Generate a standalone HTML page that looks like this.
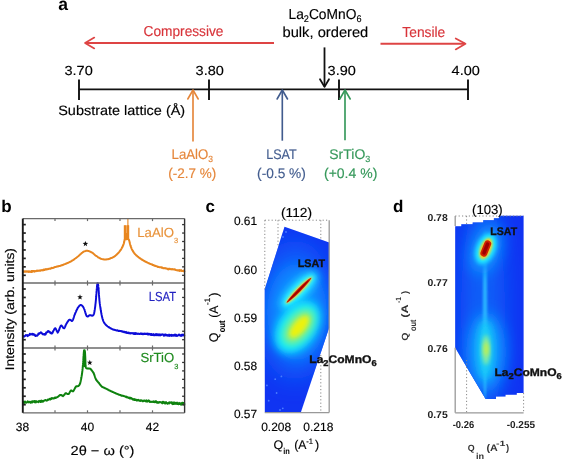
<!DOCTYPE html>
<html><head><meta charset="utf-8"><style>
html,body{margin:0;padding:0;background:#fff;}
svg{display:block;font-family:"Liberation Sans", sans-serif;-webkit-font-smoothing:antialiased;will-change:transform;}
text{text-rendering:geometricPrecision;}
</style></head><body>
<svg width="565" height="461" viewBox="0 0 565 461">
<text x="58.3" y="10.4" font-size="17.5" fill="#000" font-weight="bold" text-anchor="start" >a</text>
<line x1="85" y1="42.9" x2="274" y2="42.9" stroke="#DE4444" stroke-width="2.0" />
<polyline points="94.30,37.60 85.00,42.90 94.30,48.40" fill="none" stroke="#DE4444" stroke-width="1.7" stroke-linejoin="round" stroke-linecap="round" />
<text x="143.5" y="35.5" font-size="14.4" fill="#D8343A" stroke="#D8343A" stroke-width="0.15" font-weight="normal" text-anchor="start" textLength="80" lengthAdjust="spacingAndGlyphs" >Compressive</text>
<line x1="380.5" y1="43.8" x2="465" y2="43.8" stroke="#DE4444" stroke-width="2.0" />
<polyline points="455.70,38.40 465.50,43.80 455.70,49.40" fill="none" stroke="#DE4444" stroke-width="1.7" stroke-linejoin="round" stroke-linecap="round" />
<text x="402.3" y="37" font-size="14.4" fill="#D8343A" stroke="#D8343A" stroke-width="0.15" font-weight="normal" text-anchor="start" textLength="43" lengthAdjust="spacingAndGlyphs" >Tensile</text>
<text stroke="#000" stroke-width="0.15" fill="#000" x="288.5" y="18.6" font-size="14.4" textLength="73" lengthAdjust="spacingAndGlyphs">La<tspan font-size="9.5" dy="3.3">2</tspan><tspan dy="-3.3">CoMnO</tspan><tspan font-size="9.5" dy="3.3">6</tspan></text>
<text x="282.5" y="36.7" font-size="14.4" fill="#000" stroke="#000" stroke-width="0.15" font-weight="normal" text-anchor="start" textLength="85.8" lengthAdjust="spacingAndGlyphs" >bulk, ordered</text>
<line x1="324.5" y1="47.4" x2="324.5" y2="86.5" stroke="#111" stroke-width="1.8" />
<polyline points="320.00,79.30 324.50,86.90 329.00,79.30" fill="none" stroke="#111" stroke-width="1.8" stroke-linejoin="round" stroke-linecap="round" />
<line x1="79" y1="89.4" x2="468" y2="89.4" stroke="#111" stroke-width="1.9" />
<line x1="79" y1="79.5" x2="79" y2="100" stroke="#111" stroke-width="1.9" />
<line x1="209" y1="79.5" x2="209" y2="100" stroke="#111" stroke-width="1.9" />
<line x1="339" y1="79.5" x2="339" y2="100" stroke="#111" stroke-width="1.9" />
<line x1="468" y1="79.5" x2="468" y2="100" stroke="#111" stroke-width="1.9" />
<text x="64.5" y="74.6" font-size="13.2" fill="#000" stroke="#000" stroke-width="0.15" font-weight="normal" text-anchor="start" textLength="28.3" lengthAdjust="spacingAndGlyphs" >3.70</text>
<text x="195.6" y="74.6" font-size="13.2" fill="#000" stroke="#000" stroke-width="0.15" font-weight="normal" text-anchor="start" textLength="28.3" lengthAdjust="spacingAndGlyphs" >3.80</text>
<text x="327.6" y="74.6" font-size="13.2" fill="#000" stroke="#000" stroke-width="0.15" font-weight="normal" text-anchor="start" textLength="28.3" lengthAdjust="spacingAndGlyphs" >3.90</text>
<text x="451.6" y="74.6" font-size="13.2" fill="#000" stroke="#000" stroke-width="0.15" font-weight="normal" text-anchor="start" textLength="28.3" lengthAdjust="spacingAndGlyphs" >4.00</text>
<text x="58.2" y="115.3" font-size="13.6" fill="#000" stroke="#000" stroke-width="0.15" font-weight="normal" text-anchor="start" textLength="127" lengthAdjust="spacingAndGlyphs" >Substrate lattice (Å)</text>
<line x1="193" y1="90.2" x2="193" y2="141.6" stroke="#E5863A" stroke-width="1.65" />
<polyline points="187.80,99.00 193.00,90.00 198.20,99.00" fill="none" stroke="#E5863A" stroke-width="1.6" stroke-linejoin="round" stroke-linecap="round" />
<line x1="282.3" y1="90.2" x2="282.3" y2="140.7" stroke="#425C8E" stroke-width="1.65" />
<polyline points="277.10,99.00 282.30,90.00 287.50,99.00" fill="none" stroke="#425C8E" stroke-width="1.6" stroke-linejoin="round" stroke-linecap="round" />
<line x1="345" y1="90.2" x2="345" y2="140.3" stroke="#35985A" stroke-width="1.65" />
<polyline points="339.80,99.00 345.00,90.00 350.20,99.00" fill="none" stroke="#35985A" stroke-width="1.6" stroke-linejoin="round" stroke-linecap="round" />
<text stroke="#E5863A" stroke-width="0.15" x="171.6" y="158.9" font-size="14" fill="#E5863A" textLength="41.5" lengthAdjust="spacingAndGlyphs">LaAlO<tspan font-size="9" dy="3">3</tspan></text>
<text x="168.3" y="177.8" font-size="14" fill="#E5863A" stroke="#E5863A" stroke-width="0.15" font-weight="normal" text-anchor="start" textLength="48" lengthAdjust="spacingAndGlyphs" >(-2.7 %)</text>
<text x="266.2" y="158.7" font-size="14" fill="#425C8E" stroke="#425C8E" stroke-width="0.15" font-weight="normal" text-anchor="start" textLength="30.5" lengthAdjust="spacingAndGlyphs" >LSAT</text>
<text x="257.1" y="177.8" font-size="14" fill="#425C8E" stroke="#425C8E" stroke-width="0.15" font-weight="normal" text-anchor="start" textLength="48.8" lengthAdjust="spacingAndGlyphs" >(-0.5 %)</text>
<text stroke="#35985A" stroke-width="0.15" x="329.3" y="158.7" font-size="14" fill="#35985A" textLength="41" lengthAdjust="spacingAndGlyphs">SrTiO<tspan font-size="9" dy="3">3</tspan></text>
<text x="324" y="177.8" font-size="14" fill="#35985A" stroke="#35985A" stroke-width="0.15" font-weight="normal" text-anchor="start" textLength="53.3" lengthAdjust="spacingAndGlyphs" >(+0.4 %)</text>
<text x="1.3" y="211.9" font-size="17" fill="#000" font-weight="bold" text-anchor="start" >b</text>
<polyline points="23.00,271.61 23.23,271.42 23.50,271.95 23.82,271.32 24.17,271.81 24.55,271.62 24.95,271.29 25.38,271.76 25.83,271.25 26.30,271.66 26.77,271.26 27.25,271.27 27.73,271.61 28.20,272.03 28.67,271.26 29.13,271.35 29.58,271.76 30.00,272.07 30.41,271.66 30.82,271.44 31.24,272.02 31.65,271.03 32.06,271.84 32.47,271.22 32.88,271.04 33.29,270.98 33.71,271.15 34.12,271.63 34.53,270.95 34.94,271.32 35.35,271.33 35.76,271.02 36.18,271.15 36.59,270.62 37.00,270.56 37.41,270.66 37.83,271.06 38.24,270.76 38.66,270.58 39.08,270.78 39.49,270.58 39.91,270.37 40.33,270.76 40.75,270.60 41.16,270.10 41.57,270.33 41.99,270.21 42.39,270.44 42.80,270.23 43.20,269.77 43.60,270.29 44.00,269.47 44.42,269.65 44.83,269.85 45.24,269.26 45.65,269.46 46.05,269.01 46.46,269.43 46.86,269.42 47.26,269.18 47.65,269.33 48.05,268.81 48.44,269.01 48.84,268.84 49.23,268.74 49.62,268.55 50.01,268.74 50.40,268.71 50.82,268.28 51.23,268.31 51.64,267.80 52.05,268.13 52.46,267.98 52.87,268.10 53.27,267.88 53.68,267.44 54.08,267.40 54.49,267.45 54.89,266.97 55.29,267.11 55.69,266.84 56.10,266.71 56.50,266.57 56.90,266.82 57.31,266.39 57.71,266.34 58.12,266.29 58.53,266.40 58.93,265.92 59.34,265.97 59.74,265.90 60.14,265.92 60.54,265.76 60.94,265.65 61.33,265.31 61.73,265.23 62.11,265.08 62.50,265.13 62.91,265.00 63.32,264.61 63.72,264.47 64.12,264.34 64.52,264.20 64.91,264.11 65.31,263.98 65.70,263.75 66.09,263.55 66.47,263.46 66.86,263.29 67.24,263.15 67.62,263.05 68.00,262.83 68.38,262.63 68.76,262.47 69.13,262.29 69.51,262.01 69.88,261.96 70.25,261.76 70.62,261.58 70.98,261.37 71.35,261.11 71.71,260.91 72.06,260.66 72.41,260.54 72.76,260.24 73.10,260.03 73.46,259.82 73.83,259.56 74.19,259.34 74.54,259.04 74.90,258.77 75.25,258.53 75.59,258.26 75.93,258.04 76.26,257.72 76.58,257.60 76.90,257.30 77.20,256.98 77.50,256.76 77.87,256.47 78.22,256.18 78.56,255.84 78.89,255.67 79.20,255.41 79.51,255.05 79.81,254.78 80.10,254.45 80.40,254.19 80.70,253.97 81.07,253.65 81.42,253.43 81.77,253.02 82.11,252.71 82.45,252.59 82.80,252.26 83.14,251.96 83.50,251.81 83.92,251.50 84.34,251.39 84.77,251.29 85.20,251.12 85.64,250.97 86.07,250.81 86.50,250.78 86.93,250.73 87.35,250.84 87.76,250.84 88.19,250.96 88.61,250.98 89.05,251.10 89.50,251.35 89.86,251.53 90.24,251.68 90.62,251.86 91.01,252.07 91.40,252.28 91.79,252.43 92.17,252.72 92.54,252.94 92.90,253.12 93.24,253.37 93.57,253.67 93.90,253.93 94.21,254.28 94.52,254.60 94.84,254.79 95.15,255.15 95.47,255.42 95.80,255.68 96.14,255.83 96.48,256.06 96.83,256.31 97.18,256.55 97.52,256.79 97.87,257.09 98.22,257.36 98.56,257.56 98.90,257.70 99.32,257.96 99.74,258.20 100.15,258.29 100.56,258.57 100.97,258.78 101.38,258.91 101.80,259.04 102.22,259.12 102.64,259.17 103.07,259.36 103.50,259.36 103.93,259.49 104.36,259.56 104.80,259.48 105.19,259.49 105.59,259.57 105.99,259.52 106.39,259.40 106.79,259.34 107.20,259.29 107.60,259.35 108.00,259.25 108.40,259.05 108.80,259.05 109.20,258.95 109.59,258.76 109.99,258.57 110.39,258.44 110.80,258.21 111.20,258.02 111.56,258.02 111.93,257.80 112.30,257.62 112.68,257.51 113.05,257.24 113.42,257.12 113.78,256.90 114.15,256.58 114.50,256.36 114.85,256.12 115.19,255.85 115.53,255.64 115.87,255.30 116.20,255.03 116.53,254.68 116.86,254.50 117.18,254.10 117.50,253.79 117.78,253.52 118.07,253.27 118.35,252.88 118.63,252.64 118.91,252.25 119.18,251.93 119.44,251.60 119.70,251.18 119.96,250.92 120.20,250.55 120.46,250.15 120.72,249.91 120.97,249.44 121.21,249.11 121.44,248.78 121.67,248.37 121.89,247.95 122.10,247.60 122.30,247.21 122.50,246.85 122.69,246.33 122.87,245.99 123.05,245.52 123.21,245.11 123.37,244.77 123.53,244.32 123.67,243.91 123.80,243.54 123.93,243.10 124.05,242.54 124.16,242.08 124.25,241.58 124.34,241.12 124.42,240.73 124.51,240.31 124.60,240.01 124.83,239.43 125.04,239.22 125.30,239.03 125.82,239.17 126.40,239.37 126.96,239.11 127.50,239.01 128.02,239.10 128.50,239.36 128.71,239.51 128.90,239.86 129.09,240.37 129.30,240.93 129.39,241.26 129.48,241.58 129.57,242.05 129.66,242.47 129.75,242.90 129.85,243.21 129.95,243.74 130.06,244.17 130.17,244.52 130.30,245.06 130.42,245.46 130.55,245.73 130.68,246.25 130.82,246.56 130.96,246.98 131.11,247.46 131.26,247.84 131.41,248.12 131.57,248.55 131.73,248.94 131.90,249.27 132.09,249.64 132.28,250.03 132.48,250.47 132.68,250.71 132.89,251.15 133.10,251.48 133.32,251.75 133.54,252.13 133.77,252.50 134.00,252.80 134.26,253.07 134.53,253.55 134.80,253.84 135.08,254.18 135.36,254.34 135.66,254.66 135.96,254.92 136.27,255.34 136.60,255.56 136.90,255.81 137.21,256.13 137.52,256.48 137.84,256.73 138.18,256.90 138.52,257.15 138.87,257.55 139.23,257.76 139.61,258.06 140.00,258.23 140.31,258.44 140.63,258.77 140.96,258.95 141.30,259.12 141.65,259.49 142.00,259.66 142.35,259.92 142.72,260.03 143.09,260.38 143.46,260.48 143.84,260.83 144.22,260.98 144.60,261.17 144.96,261.40 145.33,261.66 145.70,261.75 146.07,261.92 146.45,262.17 146.84,262.31 147.22,262.48 147.62,262.67 148.01,262.84 148.40,263.05 148.80,263.24 149.20,263.42 149.60,263.67 150.00,263.76 150.38,263.96 150.76,264.04 151.14,264.24 151.53,264.30 151.93,264.52 152.32,264.60 152.71,264.97 153.11,265.06 153.50,265.08 153.90,265.32 154.29,265.64 154.67,265.45 155.05,265.88 155.43,265.85 155.80,266.00 156.22,266.29 156.63,266.22 157.03,266.40 157.42,266.62 157.81,266.89 158.20,266.67 158.59,267.05 158.98,267.09 159.37,267.16 159.76,267.13 160.17,267.20 160.58,267.13 161.00,267.28 161.37,267.32 161.72,267.82 162.08,267.60 162.43,267.62 162.78,267.65 163.13,268.22 163.49,268.32 163.86,268.27 164.24,268.08 164.63,268.12 165.04,268.24 165.47,268.43 165.92,268.29 166.40,268.58 166.90,268.53 167.23,269.10 167.58,269.16 167.94,268.90 168.31,268.72 168.69,269.33 169.08,268.88 169.48,268.97 169.89,268.75 170.31,269.10 170.73,269.23 171.15,269.31 171.58,269.12 172.01,269.42 172.44,269.07 172.87,269.33 173.30,269.24 173.72,269.56 174.14,269.31 174.55,269.34 174.96,269.63 175.36,269.62 175.75,269.98 176.13,269.98 176.50,270.22 176.96,270.20 177.44,270.32 177.91,270.53 178.40,270.15 178.88,270.15 179.36,270.82 179.84,270.11 180.31,270.70 180.77,270.69 181.22,270.18 181.66,270.98 182.08,271.09 182.47,270.89 182.85,271.04 183.20,271.16 183.52,270.55 183.82,270.96 184.08,270.98 184.30,271.33" fill="none" stroke="#E8861F" stroke-width="2.0" stroke-linejoin="round" stroke-linecap="round" />
<rect x="124.2" y="225.3" width="4.8" height="14.5" fill="#F2B070"/>
<rect x="123.8" y="225.3" width="2.3" height="14.5" fill="#E8861F"/>
<rect x="126.8" y="225.3" width="2.4" height="14.5" fill="#E8861F"/>
<rect x="124" y="233" width="5" height="7" fill="#E8861F"/>
<line x1="127.9" y1="218.5" x2="127.9" y2="226" stroke="#E8861F" stroke-width="1.1" />
<polyline points="23.00,336.52 23.25,336.54 23.58,336.11 23.97,336.61 24.41,336.23 24.88,336.23 25.36,335.42 25.86,335.06 26.34,335.18 26.80,335.51 27.23,335.03 27.60,336.14 28.04,335.55 28.44,335.48 28.80,335.26 29.14,335.11 29.47,334.62 29.79,333.77 30.13,334.69 30.50,334.53 30.89,334.16 31.28,334.21 31.69,334.40 32.09,333.67 32.50,334.65 32.91,334.08 33.31,333.92 33.70,334.27 34.15,335.07 34.59,334.50 35.04,335.51 35.47,336.09 35.90,335.51 36.31,335.42 36.70,335.57 37.07,335.75 37.41,335.62 37.74,335.06 38.06,334.73 38.37,333.62 38.68,333.41 39.00,333.31 39.45,333.60 39.91,332.88 40.35,332.97 40.79,332.30 41.20,332.35 41.58,332.72 41.94,333.46 42.28,333.86 42.63,334.19 43.00,333.92 43.37,334.38 43.73,334.43 44.11,334.50 44.53,333.97 45.00,334.83 45.26,333.71 45.54,334.41 45.83,333.98 46.13,332.57 46.44,332.65 46.76,332.60 47.08,332.34 47.42,331.60 47.76,331.25 48.10,331.10 48.45,331.63 48.82,331.25 49.20,331.76 49.59,331.69 49.99,332.33 50.38,333.07 50.77,332.51 51.16,333.43 51.54,333.18 51.90,333.52 52.15,333.15 52.40,332.42 52.65,332.72 52.90,331.94 53.14,331.16 53.38,330.73 53.62,330.56 53.85,330.07 54.09,329.57 54.32,329.14 54.54,328.83 54.76,328.54 54.98,328.48 55.20,328.17 55.47,328.43 55.72,328.71 55.97,328.93 56.21,329.66 56.45,330.18 56.68,330.88 56.91,331.05 57.15,331.57 57.39,331.93 57.64,332.66 57.90,332.28 58.06,331.96 58.23,331.81 58.39,331.42 58.56,330.93 58.73,330.60 58.91,330.57 59.08,329.84 59.26,329.56 59.43,328.85 59.61,328.35 59.78,327.91 59.96,327.34 60.13,326.94 60.31,326.67 60.48,326.29 60.66,325.97 60.83,325.69 61.00,325.61 61.31,325.54 61.62,325.58 61.93,325.92 62.24,326.16 62.55,326.81 62.86,327.22 63.15,327.75 63.45,328.08 63.73,328.21 64.00,328.18 64.21,328.30 64.42,327.90 64.61,327.71 64.79,327.35 64.97,326.96 65.15,326.65 65.33,326.27 65.51,325.63 65.69,325.27 65.88,324.74 66.09,324.39 66.30,323.97 66.53,323.55 66.76,323.15 67.00,322.75 67.24,322.51 67.50,321.98 67.75,321.50 68.01,321.29 68.27,320.95 68.53,320.48 68.79,320.11 69.04,319.89 69.30,319.70 69.69,319.67 70.09,319.72 70.49,319.99 70.90,320.29 71.30,320.65 71.69,320.93 72.05,320.94 72.40,320.68 72.57,320.49 72.73,320.28 72.88,319.95 73.03,319.62 73.17,319.19 73.30,318.85 73.43,318.62 73.57,317.97 73.70,317.61 73.83,317.19 73.97,316.79 74.12,316.16 74.27,315.72 74.43,315.27 74.60,314.87 74.75,314.53 74.91,314.28 75.07,313.87 75.23,313.48 75.40,312.86 75.57,312.45 75.74,312.21 75.92,311.84 76.10,311.32 76.28,310.95 76.46,310.39 76.64,310.10 76.82,309.86 77.00,309.46 77.18,309.12 77.36,308.82 77.53,308.32 77.70,308.00 78.00,307.52 78.30,307.15 78.60,306.75 78.90,306.41 79.20,305.99 79.50,305.65 79.80,305.43 80.10,305.15 80.40,305.06 80.70,304.88 81.01,305.11 81.32,305.08 81.63,305.42 81.94,305.59 82.25,305.80 82.56,306.11 82.87,306.54 83.18,307.10 83.49,307.61 83.80,308.00 83.95,308.28 84.09,308.72 84.23,309.10 84.38,309.44 84.52,309.81 84.66,310.34 84.81,310.64 84.95,311.18 85.09,311.69 85.24,312.29 85.38,312.68 85.52,313.20 85.66,313.55 85.80,313.92 85.95,314.34 86.09,314.91 86.23,315.20 86.37,315.43 86.51,315.64 86.66,316.00 86.80,316.24 87.22,316.51 87.63,316.50 88.04,316.42 88.46,316.18 88.88,315.64 89.33,315.28 89.80,315.16 90.20,315.16 90.63,315.32 91.07,315.33 91.53,315.63 91.99,315.72 92.44,315.68 92.86,315.48 93.25,315.36 93.60,314.65 93.70,314.56 93.79,314.17 93.88,313.91 93.97,313.77 94.06,313.36 94.14,313.22 94.22,312.78 94.30,312.36 94.37,312.02 94.44,311.70 94.51,311.38 94.58,311.06 94.65,310.45 94.71,310.10 94.78,309.62 94.84,309.38 94.90,308.72 94.96,308.25 95.02,307.79 95.08,307.40 95.13,307.06 95.19,306.57 95.25,306.05 95.31,305.62 95.36,305.11 95.42,304.46 95.48,303.92 95.54,303.61 95.60,303.06 95.64,302.53 95.68,302.33 95.72,301.88 95.76,301.50 95.80,301.08 95.84,300.63 95.88,300.17 95.92,299.81 95.95,299.38 95.99,299.09 96.03,298.42 96.07,298.18 96.10,297.52 96.14,297.09 96.18,296.73 96.21,296.26 96.25,295.68 96.28,295.10 96.32,294.73 96.35,294.23 96.39,293.89 96.42,293.24 96.46,292.81 96.49,292.48 96.53,291.80 96.56,291.44 96.59,291.10 96.63,290.65 96.66,290.03 96.69,289.61 96.72,289.20 96.76,289.02 96.79,288.46 96.82,288.21 96.85,287.89 96.88,287.40 96.92,287.05 96.95,286.91 96.98,286.53 97.01,286.16 97.04,286.02 97.07,285.67 97.10,285.44 97.48,283.27 97.82,283.25 98.20,285.11 98.23,285.24 98.26,285.55 98.29,285.56 98.32,285.87 98.35,286.21 98.37,286.63 98.40,286.94 98.43,287.13 98.46,287.43 98.49,287.83 98.52,288.22 98.55,288.71 98.58,288.91 98.61,289.47 98.64,289.87 98.67,290.31 98.70,290.73 98.73,291.12 98.76,291.49 98.79,291.94 98.82,292.41 98.85,292.98 98.88,293.26 98.91,293.76 98.95,294.38 98.98,294.72 99.01,295.15 99.05,295.62 99.08,296.22 99.12,296.64 99.16,297.28 99.19,297.72 99.23,298.21 99.27,298.49 99.31,298.90 99.35,299.36 99.39,299.91 99.43,300.40 99.47,300.77 99.52,301.14 99.56,301.60 99.61,302.05 99.65,302.46 99.70,302.86 99.75,303.32 99.81,303.70 99.87,303.99 99.93,304.61 99.98,304.90 100.04,305.41 100.11,305.80 100.17,306.33 100.23,306.63 100.30,307.07 100.36,307.51 100.43,307.92 100.49,308.54 100.56,308.90 100.63,309.26 100.70,309.71 100.77,310.29 100.84,310.59 100.91,310.94 100.98,311.50 101.05,311.87 101.12,312.37 101.20,312.54 101.27,313.04 101.34,313.52 101.42,313.91 101.49,314.31 101.57,314.46 101.64,314.90 101.72,315.21 101.79,315.59 101.87,316.13 101.95,316.37 102.02,316.79 102.10,316.97 102.17,317.41 102.25,317.61 102.32,317.85 102.40,318.27 102.57,318.93 102.74,319.28 102.90,319.92 103.07,320.41 103.23,320.74 103.40,321.19 103.56,321.50 103.73,321.87 103.91,322.21 104.09,322.61 104.27,322.92 104.47,323.09 104.67,323.33 104.89,323.69 105.11,324.06 105.35,324.22 105.60,324.55 105.87,324.83 106.15,325.27 106.46,325.49 106.77,325.65 107.10,325.92 107.44,326.26 107.78,326.55 108.13,326.82 108.48,326.91 108.84,327.16 109.19,327.51 109.55,327.65 109.89,327.82 110.23,328.02 110.57,328.37 110.89,328.38 111.20,328.62 111.61,328.78 112.00,328.98 112.36,329.26 112.71,329.45 113.06,329.40 113.40,329.45 113.75,329.74 114.12,329.65 114.51,329.66 114.94,330.13 115.40,330.04 115.90,330.35 116.23,330.23 116.57,330.55 116.92,330.42 117.29,330.34 117.67,330.33 118.06,330.71 118.46,330.84 118.86,331.09 119.28,330.66 119.69,331.08 120.12,331.00 120.54,331.16 120.97,331.00 121.40,331.17 121.82,331.42 122.25,331.79 122.67,331.26 123.09,331.63 123.50,331.96 123.90,332.18 124.29,331.63 124.66,331.65 125.02,332.43 125.37,332.55 125.71,332.20 126.05,331.90 126.39,332.79 126.72,332.37 127.06,332.96 127.41,332.77 127.76,333.06 128.13,332.47 128.52,333.20 128.92,332.68 129.34,332.95 129.79,333.51 130.27,333.57 130.78,332.92 131.32,333.02 131.90,333.28 132.21,333.45 132.53,333.32 132.86,333.05 133.20,333.22 133.55,333.81 133.91,334.04 134.28,333.05 134.65,333.69 135.03,333.95 135.42,333.11 135.81,334.09 136.21,333.24 136.61,333.85 137.03,333.81 137.44,333.92 137.86,333.55 138.28,333.71 138.71,333.92 139.14,333.75 139.57,334.06 140.01,333.81 140.45,333.82 140.88,333.31 141.33,334.08 141.77,333.93 142.21,333.63 142.65,334.31 143.09,334.35 143.53,333.96 143.97,333.62 144.41,334.01 144.84,333.56 145.27,333.60 145.70,334.01 146.13,333.59 146.56,334.06 146.97,334.17 147.39,333.58 147.80,334.38 148.21,333.67 148.61,334.55 149.01,334.63 149.41,334.30 149.80,333.71 150.20,334.33 150.59,334.18 150.98,334.98 151.37,333.90 151.76,334.90 152.15,335.12 152.54,334.78 152.93,334.92 153.31,334.08 153.70,335.19 154.09,334.54 154.48,335.21 154.87,335.17 155.26,334.14 155.65,335.04 156.05,335.27 156.44,334.06 156.84,334.49 157.24,335.09 157.65,334.25 158.05,335.33 158.46,334.46 158.87,335.26 159.29,334.31 159.71,334.85 160.13,335.47 160.56,334.45 160.99,334.55 161.43,334.93 161.88,334.67 162.32,334.27 162.78,334.50 163.24,334.48 163.70,335.65 164.06,335.28 164.44,335.61 164.82,334.54 165.22,335.47 165.62,334.48 166.03,335.11 166.45,335.28 166.88,334.88 167.32,335.66 167.76,335.19 168.21,335.24 168.66,335.71 169.12,334.54 169.58,335.90 170.04,335.36 170.51,335.01 170.98,335.63 171.45,334.83 171.93,335.95 172.40,335.32 172.87,335.00 173.35,335.63 173.82,335.14 174.29,334.74 174.76,335.62 175.23,334.56 175.69,335.76 176.15,334.89 176.60,335.49 177.05,336.03 177.49,335.42 177.93,335.55 178.36,335.01 178.79,334.54 179.20,334.59 179.61,334.78 180.00,335.51 180.39,335.23 180.77,335.36 181.14,335.97 181.49,334.78 181.84,334.93 182.17,335.60 182.49,334.62 182.79,334.59 183.08,335.15 183.36,334.77 183.62,335.16 183.86,334.96 184.09,335.53 184.30,335.54" fill="none" stroke="#0C0CD8" stroke-width="1.95" stroke-linejoin="round" stroke-linecap="round" />
<polyline points="23.00,401.90 23.22,402.60 23.48,402.33 23.77,401.74 24.08,403.08 24.42,401.89 24.78,401.72 25.17,401.61 25.57,402.49 25.99,402.86 26.43,402.69 26.88,402.03 27.34,401.78 27.81,401.34 28.29,402.36 28.77,402.19 29.26,401.82 29.74,402.27 30.23,401.92 30.70,402.69 31.18,402.33 31.64,401.52 32.10,402.55 32.49,401.15 32.88,401.91 33.28,401.69 33.69,401.40 34.10,401.10 34.52,402.23 34.95,401.00 35.38,401.83 35.81,402.43 36.24,401.16 36.67,401.23 37.11,401.85 37.54,401.67 37.98,401.86 38.41,402.11 38.84,401.09 39.26,401.27 39.68,401.23 40.10,400.82 40.51,402.07 40.91,401.87 41.31,401.72 41.70,400.61 42.07,401.82 42.44,401.62 42.80,401.15 43.28,401.47 43.74,400.95 44.19,400.53 44.63,400.25 45.06,400.32 45.48,399.94 45.90,400.22 46.30,400.63 46.70,400.42 47.09,400.47 47.47,400.16 47.85,399.47 48.22,399.69 48.59,399.41 48.96,399.69 49.32,399.26 49.68,398.86 50.04,399.16 50.40,399.39 50.85,398.48 51.30,399.05 51.74,398.08 52.17,398.23 52.60,398.12 53.02,398.51 53.43,398.61 53.84,398.33 54.24,397.86 54.62,398.27 55.00,397.69 55.37,397.52 55.72,397.97 56.07,397.63 56.40,397.55 56.83,397.33 57.23,397.33 57.61,396.73 57.97,396.71 58.32,396.35 58.64,396.17 58.96,395.71 59.27,395.63 59.58,395.37 59.89,395.12 60.20,394.99 60.63,395.12 61.05,395.00 61.45,395.49 61.85,395.36 62.23,395.48 62.60,395.66 62.96,396.17 63.30,395.82 63.61,395.54 63.89,395.21 64.15,394.87 64.40,394.67 64.65,394.23 64.91,393.86 65.19,393.56 65.50,393.18 65.90,393.28 66.34,393.32 66.81,393.63 67.28,393.84 67.75,394.03 68.19,393.88 68.60,394.00 68.86,393.81 69.11,393.53 69.35,392.94 69.58,392.55 69.81,392.08 70.03,391.62 70.24,391.43 70.46,391.06 70.68,390.72 70.90,390.59 71.34,390.51 71.76,390.72 72.18,391.06 72.62,391.31 73.10,391.37 73.30,391.03 73.50,390.80 73.71,390.51 73.93,390.03 74.15,389.68 74.37,389.26 74.59,388.93 74.82,388.40 75.04,387.96 75.26,387.73 75.48,387.25 75.69,387.04 75.90,386.73 76.34,386.25 76.79,386.21 77.23,386.19 77.64,386.28 78.04,386.12 78.40,386.06 78.68,385.80 78.93,385.48 79.16,385.40 79.38,384.90 79.59,384.74 79.80,384.13 80.00,383.57 80.10,383.32 80.20,383.14 80.30,382.85 80.40,382.21 80.50,381.95 80.59,381.53 80.69,381.19 80.78,380.59 80.87,380.23 80.96,379.74 81.05,379.43 81.13,378.82 81.22,378.56 81.30,377.94 81.37,377.54 81.44,377.29 81.51,376.86 81.58,376.37 81.64,376.13 81.71,375.60 81.77,375.40 81.83,374.98 81.89,374.60 81.95,374.15 82.01,373.67 82.07,373.26 82.13,372.83 82.19,372.52 82.24,371.85 82.30,371.60 82.34,371.01 82.39,370.68 82.43,370.32 82.47,370.10 82.51,369.59 82.55,369.16 82.59,368.88 82.63,368.29 82.67,367.93 82.71,367.53 82.75,367.17 82.79,366.75 82.83,366.29 82.86,365.79 82.90,365.37 82.93,364.90 82.97,364.68 83.00,364.22 83.04,363.84 83.07,363.30 83.10,362.98 83.14,362.63 83.17,362.13 83.20,361.56 83.23,361.21 83.26,360.88 83.29,360.27 83.32,359.82 83.34,359.42 83.37,359.10 83.39,358.71 83.42,358.11 83.44,357.70 83.47,357.32 83.49,356.95 83.52,356.61 83.55,356.14 83.57,355.81 83.60,355.42 83.64,355.14 83.67,354.58 83.71,353.92 83.75,353.68 83.78,352.98 83.82,352.61 83.86,352.34 83.89,351.88 83.93,351.49 83.97,351.07 84.01,350.70 84.05,350.55 84.10,350.19 84.80,350.42 84.83,350.70 84.87,350.88 84.90,351.29 84.93,351.74 84.96,352.08 84.99,352.43 85.02,352.89 85.05,353.28 85.07,353.65 85.10,354.24 85.13,354.66 85.16,355.24 85.18,355.77 85.21,356.12 85.23,356.64 85.25,357.16 85.28,357.53 85.30,357.93 85.32,358.46 85.33,358.93 85.35,359.34 85.36,359.76 85.37,360.26 85.38,360.68 85.38,361.13 85.39,361.55 85.40,361.98 85.41,362.53 85.41,362.84 85.42,363.37 85.44,363.91 85.45,364.31 85.47,364.68 85.49,364.96 85.51,365.37 85.53,365.71 85.56,366.06 85.60,366.28 85.76,367.18 85.93,367.75 86.15,367.84 86.44,368.15 86.80,368.38 87.14,368.40 87.56,368.50 88.03,368.67 88.51,368.43 88.97,368.57 89.38,368.48 89.70,368.68 90.14,368.68 90.60,369.01 90.78,369.10 90.99,369.47 91.22,369.73 91.47,370.08 91.74,370.35 92.01,370.73 92.29,371.15 92.57,371.45 92.85,371.82 93.12,372.38 93.37,372.60 93.60,373.15 93.76,373.40 93.92,373.85 94.06,374.05 94.21,374.67 94.35,374.90 94.48,375.22 94.62,375.69 94.75,376.14 94.88,376.45 95.02,376.97 95.15,377.38 95.29,377.84 95.44,378.13 95.58,378.47 95.74,378.80 95.90,379.27 96.13,379.72 96.36,379.97 96.60,380.24 96.84,380.72 97.10,380.92 97.35,381.17 97.61,381.44 97.87,381.90 98.13,382.19 98.39,382.44 98.64,382.69 98.90,383.02 99.15,383.24 99.40,383.77 99.64,383.93 99.88,384.34 100.12,384.72 100.36,385.04 100.61,385.27 100.87,385.53 101.13,385.90 101.41,386.08 101.70,386.54 102.00,386.66 102.32,387.02 102.64,387.07 102.96,387.28 103.30,387.41 103.64,387.61 104.00,387.70 104.37,387.79 104.74,388.14 105.14,388.18 105.54,388.34 105.96,388.54 106.40,388.79 106.72,388.94 107.04,389.16 107.38,389.34 107.72,389.44 108.06,389.78 108.41,389.94 108.77,389.92 109.14,390.32 109.51,390.54 109.89,390.70 110.27,390.73 110.66,391.11 111.06,391.26 111.46,391.29 111.87,391.48 112.28,391.93 112.70,392.04 113.04,392.09 113.40,392.20 113.75,392.37 114.12,392.55 114.49,392.85 114.86,392.90 115.24,393.00 115.62,393.36 116.01,393.49 116.40,393.48 116.79,393.83 117.18,393.91 117.58,394.12 117.97,394.24 118.36,394.45 118.76,394.57 119.15,394.74 119.54,394.69 119.93,394.99 120.32,395.08 120.70,395.30 121.10,395.31 121.50,395.64 121.90,395.63 122.30,395.62 122.70,395.72 123.10,395.79 123.50,396.10 123.90,395.96 124.31,396.31 124.71,396.23 125.11,396.56 125.51,396.68 125.91,396.82 126.31,397.16 126.71,396.66 127.11,397.39 127.51,397.22 127.90,397.41 128.30,397.61 128.70,397.88 129.09,397.62 129.48,397.78 129.86,398.38 130.23,397.71 130.60,398.36 130.97,398.49 131.34,398.03 131.71,398.73 132.08,398.94 132.45,399.34 132.83,398.83 133.21,399.67 133.59,399.27 133.99,399.36 134.40,399.96 134.81,399.05 135.24,399.97 135.68,399.97 136.13,399.71 136.60,400.46 136.94,399.89 137.29,400.08 137.63,400.20 137.99,400.57 138.34,399.89 138.70,400.23 139.06,400.25 139.42,400.47 139.79,400.87 140.16,400.19 140.54,400.95 140.92,400.41 141.31,400.57 141.70,400.29 142.10,400.64 142.50,401.32 142.91,400.91 143.32,401.13 143.74,400.52 144.16,400.53 144.59,400.54 145.03,400.98 145.47,401.08 145.92,401.33 146.38,400.31 146.85,401.33 147.32,401.61 147.80,401.17 148.15,400.48 148.50,400.88 148.86,400.48 149.21,400.79 149.58,401.91 149.94,401.49 150.31,401.60 150.68,401.84 151.05,402.07 151.43,401.66 151.81,401.71 152.19,401.76 152.58,401.92 152.97,401.80 153.36,401.98 153.75,401.29 154.15,402.05 154.55,401.76 154.96,402.29 155.37,401.28 155.78,401.45 156.19,401.25 156.61,402.49 157.03,402.77 157.45,402.39 157.88,401.96 158.31,402.76 158.74,402.74 159.18,402.41 159.61,401.94 160.06,402.05 160.50,402.30 160.95,402.16 161.40,402.39 161.85,402.79 162.31,403.34 162.77,401.85 163.23,402.78 163.70,401.90 164.06,402.06 164.44,403.30 164.82,402.92 165.22,403.55 165.62,402.74 166.03,402.00 166.45,402.69 166.88,403.09 167.32,403.74 167.76,403.84 168.21,402.96 168.66,402.88 169.12,402.34 169.58,403.35 170.04,402.59 170.51,402.51 170.98,402.29 171.45,402.29 171.93,403.57 172.40,402.56 172.87,404.15 173.35,402.54 173.82,404.02 174.29,402.67 174.76,402.49 175.23,403.82 175.69,402.95 176.15,403.90 176.60,402.90 177.05,402.66 177.49,404.05 177.93,403.96 178.36,404.26 178.79,404.04 179.20,402.83 179.61,403.89 180.00,404.07 180.39,403.61 180.77,404.54 181.14,403.25 181.49,404.65 181.84,404.19 182.17,402.83 182.49,402.86 182.79,404.11 183.08,404.45 183.36,403.03 183.62,403.49 183.86,404.32 184.09,403.23 184.30,404.61" fill="none" stroke="#0E820E" stroke-width="2.0" stroke-linejoin="round" stroke-linecap="round" />
<line x1="84.3" y1="352" x2="84.5" y2="367" stroke="#0E820E" stroke-width="2.4" />
<line x1="22.8" y1="218.6" x2="184.6" y2="218.6" stroke="#6a6a6a" stroke-width="1.3" />
<line x1="22.8" y1="283" x2="184.6" y2="283" stroke="#6a6a6a" stroke-width="1.3" />
<line x1="22.8" y1="348" x2="184.6" y2="348" stroke="#6a6a6a" stroke-width="1.3" />
<line x1="22.8" y1="412.8" x2="184.6" y2="412.8" stroke="#6a6a6a" stroke-width="1.3" />
<line x1="184.6" y1="218.6" x2="184.6" y2="412.8" stroke="#333" stroke-width="1.4" />
<line x1="22.8" y1="218.6" x2="22.8" y2="412.8" stroke="#1a1a1a" stroke-width="1.9" />
<line x1="55.0" y1="218.6" x2="55.0" y2="221.1" stroke="#6a6a6a" stroke-width="1.2" />
<line x1="55.0" y1="283" x2="55.0" y2="280.5" stroke="#6a6a6a" stroke-width="1.2" />
<line x1="55.0" y1="283" x2="55.0" y2="285.5" stroke="#6a6a6a" stroke-width="1.2" />
<line x1="55.0" y1="348" x2="55.0" y2="345.5" stroke="#6a6a6a" stroke-width="1.2" />
<line x1="55.0" y1="348" x2="55.0" y2="350.5" stroke="#6a6a6a" stroke-width="1.2" />
<line x1="55.0" y1="412.8" x2="55.0" y2="410.3" stroke="#6a6a6a" stroke-width="1.2" />
<line x1="87.5" y1="218.6" x2="87.5" y2="221.1" stroke="#6a6a6a" stroke-width="1.2" />
<line x1="87.5" y1="283" x2="87.5" y2="280.5" stroke="#6a6a6a" stroke-width="1.2" />
<line x1="87.5" y1="283" x2="87.5" y2="285.5" stroke="#6a6a6a" stroke-width="1.2" />
<line x1="87.5" y1="348" x2="87.5" y2="345.5" stroke="#6a6a6a" stroke-width="1.2" />
<line x1="87.5" y1="348" x2="87.5" y2="350.5" stroke="#6a6a6a" stroke-width="1.2" />
<line x1="87.5" y1="412.8" x2="87.5" y2="410.3" stroke="#6a6a6a" stroke-width="1.2" />
<line x1="120.0" y1="218.6" x2="120.0" y2="221.1" stroke="#6a6a6a" stroke-width="1.2" />
<line x1="120.0" y1="283" x2="120.0" y2="280.5" stroke="#6a6a6a" stroke-width="1.2" />
<line x1="120.0" y1="283" x2="120.0" y2="285.5" stroke="#6a6a6a" stroke-width="1.2" />
<line x1="120.0" y1="348" x2="120.0" y2="345.5" stroke="#6a6a6a" stroke-width="1.2" />
<line x1="120.0" y1="348" x2="120.0" y2="350.5" stroke="#6a6a6a" stroke-width="1.2" />
<line x1="120.0" y1="412.8" x2="120.0" y2="410.3" stroke="#6a6a6a" stroke-width="1.2" />
<line x1="152.5" y1="218.6" x2="152.5" y2="221.1" stroke="#6a6a6a" stroke-width="1.2" />
<line x1="152.5" y1="283" x2="152.5" y2="280.5" stroke="#6a6a6a" stroke-width="1.2" />
<line x1="152.5" y1="283" x2="152.5" y2="285.5" stroke="#6a6a6a" stroke-width="1.2" />
<line x1="152.5" y1="348" x2="152.5" y2="345.5" stroke="#6a6a6a" stroke-width="1.2" />
<line x1="152.5" y1="348" x2="152.5" y2="350.5" stroke="#6a6a6a" stroke-width="1.2" />
<line x1="152.5" y1="412.8" x2="152.5" y2="410.3" stroke="#6a6a6a" stroke-width="1.2" />
<line x1="22.8" y1="224.6" x2="25.8" y2="224.6" stroke="#222" stroke-width="1.7" />
<line x1="184.6" y1="224.6" x2="182.1" y2="224.6" stroke="#333" stroke-width="1.3" />
<line x1="22.8" y1="233.04999999999998" x2="25.8" y2="233.04999999999998" stroke="#222" stroke-width="1.7" />
<line x1="184.6" y1="233.04999999999998" x2="182.1" y2="233.04999999999998" stroke="#333" stroke-width="1.3" />
<line x1="22.8" y1="241.49999999999997" x2="25.8" y2="241.49999999999997" stroke="#222" stroke-width="1.7" />
<line x1="184.6" y1="241.49999999999997" x2="182.1" y2="241.49999999999997" stroke="#333" stroke-width="1.3" />
<line x1="22.8" y1="249.94999999999996" x2="25.8" y2="249.94999999999996" stroke="#222" stroke-width="1.7" />
<line x1="184.6" y1="249.94999999999996" x2="182.1" y2="249.94999999999996" stroke="#333" stroke-width="1.3" />
<line x1="22.8" y1="258.4" x2="25.8" y2="258.4" stroke="#222" stroke-width="1.7" />
<line x1="184.6" y1="258.4" x2="182.1" y2="258.4" stroke="#333" stroke-width="1.3" />
<line x1="22.8" y1="266.84999999999997" x2="25.8" y2="266.84999999999997" stroke="#222" stroke-width="1.7" />
<line x1="184.6" y1="266.84999999999997" x2="182.1" y2="266.84999999999997" stroke="#333" stroke-width="1.3" />
<line x1="22.8" y1="275.29999999999995" x2="25.8" y2="275.29999999999995" stroke="#222" stroke-width="1.7" />
<line x1="184.6" y1="275.29999999999995" x2="182.1" y2="275.29999999999995" stroke="#333" stroke-width="1.3" />
<line x1="22.8" y1="289" x2="25.8" y2="289" stroke="#222" stroke-width="1.7" />
<line x1="184.6" y1="289" x2="182.1" y2="289" stroke="#333" stroke-width="1.3" />
<line x1="22.8" y1="297.45" x2="25.8" y2="297.45" stroke="#222" stroke-width="1.7" />
<line x1="184.6" y1="297.45" x2="182.1" y2="297.45" stroke="#333" stroke-width="1.3" />
<line x1="22.8" y1="305.9" x2="25.8" y2="305.9" stroke="#222" stroke-width="1.7" />
<line x1="184.6" y1="305.9" x2="182.1" y2="305.9" stroke="#333" stroke-width="1.3" />
<line x1="22.8" y1="314.34999999999997" x2="25.8" y2="314.34999999999997" stroke="#222" stroke-width="1.7" />
<line x1="184.6" y1="314.34999999999997" x2="182.1" y2="314.34999999999997" stroke="#333" stroke-width="1.3" />
<line x1="22.8" y1="322.79999999999995" x2="25.8" y2="322.79999999999995" stroke="#222" stroke-width="1.7" />
<line x1="184.6" y1="322.79999999999995" x2="182.1" y2="322.79999999999995" stroke="#333" stroke-width="1.3" />
<line x1="22.8" y1="331.24999999999994" x2="25.8" y2="331.24999999999994" stroke="#222" stroke-width="1.7" />
<line x1="184.6" y1="331.24999999999994" x2="182.1" y2="331.24999999999994" stroke="#333" stroke-width="1.3" />
<line x1="22.8" y1="339.69999999999993" x2="25.8" y2="339.69999999999993" stroke="#222" stroke-width="1.7" />
<line x1="184.6" y1="339.69999999999993" x2="182.1" y2="339.69999999999993" stroke="#333" stroke-width="1.3" />
<line x1="22.8" y1="354" x2="25.8" y2="354" stroke="#222" stroke-width="1.7" />
<line x1="184.6" y1="354" x2="182.1" y2="354" stroke="#333" stroke-width="1.3" />
<line x1="22.8" y1="362.45" x2="25.8" y2="362.45" stroke="#222" stroke-width="1.7" />
<line x1="184.6" y1="362.45" x2="182.1" y2="362.45" stroke="#333" stroke-width="1.3" />
<line x1="22.8" y1="370.9" x2="25.8" y2="370.9" stroke="#222" stroke-width="1.7" />
<line x1="184.6" y1="370.9" x2="182.1" y2="370.9" stroke="#333" stroke-width="1.3" />
<line x1="22.8" y1="379.34999999999997" x2="25.8" y2="379.34999999999997" stroke="#222" stroke-width="1.7" />
<line x1="184.6" y1="379.34999999999997" x2="182.1" y2="379.34999999999997" stroke="#333" stroke-width="1.3" />
<line x1="22.8" y1="387.79999999999995" x2="25.8" y2="387.79999999999995" stroke="#222" stroke-width="1.7" />
<line x1="184.6" y1="387.79999999999995" x2="182.1" y2="387.79999999999995" stroke="#333" stroke-width="1.3" />
<line x1="22.8" y1="396.24999999999994" x2="25.8" y2="396.24999999999994" stroke="#222" stroke-width="1.7" />
<line x1="184.6" y1="396.24999999999994" x2="182.1" y2="396.24999999999994" stroke="#333" stroke-width="1.3" />
<line x1="22.8" y1="404.69999999999993" x2="25.8" y2="404.69999999999993" stroke="#222" stroke-width="1.7" />
<line x1="184.6" y1="404.69999999999993" x2="182.1" y2="404.69999999999993" stroke="#333" stroke-width="1.3" />
<polygon points="85.40,240.90 86.13,242.79 88.16,242.90 86.59,244.19 87.10,246.15 85.40,245.05 83.70,246.15 84.21,244.19 82.64,242.90 84.67,242.79" fill="#111"/>
<polygon points="80.00,294.30 80.73,296.19 82.76,296.30 81.19,297.59 81.70,299.55 80.00,298.45 78.30,299.55 78.81,297.59 77.24,296.30 79.27,296.19" fill="#111"/>
<polygon points="89.80,359.80 90.53,361.69 92.56,361.80 90.99,363.09 91.50,365.05 89.80,363.95 88.10,365.05 88.61,363.09 87.04,361.80 89.07,361.69" fill="#111"/>
<text stroke="#E8923A" stroke-width="0.15" x="137.2" y="236.5" font-size="13.2" fill="#E8923A" textLength="41" lengthAdjust="spacingAndGlyphs">LaAlO<tspan font-size="7.5" dy="6.8">3</tspan></text>
<text x="148.8" y="300.7" font-size="13.2" fill="#2222C0" stroke="#2222C0" stroke-width="0.15" font-weight="normal" text-anchor="start" textLength="27.4" lengthAdjust="spacingAndGlyphs" >LSAT</text>
<text stroke="#1E8A1E" stroke-width="0.15" x="140.4" y="361.7" font-size="13.2" fill="#1E8A1E" textLength="38" lengthAdjust="spacingAndGlyphs">SrTiO<tspan font-size="7.5" dy="6.8">3</tspan></text>
<text x="22.5" y="430.8" font-size="12" fill="#000" stroke="#000" stroke-width="0.15" font-weight="normal" text-anchor="middle" >38</text>
<text x="87.5" y="430.8" font-size="12" fill="#000" stroke="#000" stroke-width="0.15" font-weight="normal" text-anchor="middle" >40</text>
<text x="152.5" y="430.8" font-size="12" fill="#000" stroke="#000" stroke-width="0.15" font-weight="normal" text-anchor="middle" >42</text>
<text x="70.5" y="455" font-size="13" fill="#000" stroke="#000" stroke-width="0.15" font-weight="normal" text-anchor="start" textLength="64" lengthAdjust="spacingAndGlyphs" >2θ − ω (°)</text>
<text stroke="#000" stroke-width="0.15" fill="#000" transform="translate(14,370.5) rotate(-90)" x="0" y="0" font-size="12.5" textLength="122.5" lengthAdjust="spacingAndGlyphs">Intensity (arb. units)</text>
<text x="205.6" y="212.1" font-size="17" fill="#000" font-weight="bold" text-anchor="start" >c</text>
<defs><clipPath id="cc"><polygon points="284.5,226.8 329.2,242.6 329.2,327.5 300.8,412.6 264.8,412.6 264.8,289.3"/></clipPath><filter id="b2" x="-50%" y="-50%" width="200%" height="200%"><feGaussianBlur stdDeviation="2"/></filter><filter id="b1" x="-50%" y="-50%" width="200%" height="200%"><feGaussianBlur stdDeviation="1"/></filter><filter id="b4" x="-50%" y="-50%" width="200%" height="200%"><feGaussianBlur stdDeviation="4"/></filter><filter id="b7" x="-50%" y="-50%" width="200%" height="200%"><feGaussianBlur stdDeviation="7"/></filter><filter id="b12" x="-50%" y="-50%" width="200%" height="200%"><feGaussianBlur stdDeviation="12"/></filter><clipPath id="cd"><polygon points="455.2,226.3 461.3,226.3 461.3,224.2 472.7,224.2 472.7,222.5 483.3,222.5 483.3,220.2 493.9,220.2 493.9,218.2 498.9,218.2 498.9,215.7 523.6,215.7 523.6,393 516.8,393 516.8,394.7 505.5,394.7 505.5,396.4 496,396.4 496,399 485.6,399 455.2,347.8"/></clipPath></defs>
<g clip-path="url(#cc)">
<rect x="260" y="220" width="75" height="200" fill="#1034F2"/>
<ellipse cx="295" cy="310" rx="40" ry="70" fill="#0A5CF9" filter="url(#b12)"/>
<ellipse cx="297" cy="312" rx="30" ry="48" fill="#0A86FF" filter="url(#b7)"/>
<ellipse cx="299" cy="290.2" rx="25" ry="8.5" transform="rotate(-45.3 299 290.2)" fill="#20E8FF" filter="url(#b4)"/>
<ellipse cx="299" cy="290.2" rx="21" ry="5" transform="rotate(-45.3 299 290.2)" fill="#30F4FF" filter="url(#b2)"/>
<ellipse cx="297.5" cy="327" rx="29" ry="19" transform="rotate(-56 297.5 327)" fill="#10EEFF" filter="url(#b4)"/>
<ellipse cx="298.8" cy="327" rx="20" ry="11" transform="rotate(-52 298.8 327)" fill="#9CF070" filter="url(#b4)"/>
<ellipse cx="299.3" cy="326.7" rx="13" ry="5.8" transform="rotate(-50 299.3 326.7)" fill="#ECF210" filter="url(#b2)"/>
<circle cx="275.2" cy="379.2" r="0.9" fill="#4A7CFF"/>
<circle cx="281.4" cy="376.4" r="0.9" fill="#4A7CFF"/>
<circle cx="266.9" cy="385.4" r="0.9" fill="#4A7CFF"/>
<circle cx="276.6" cy="393" r="0.9" fill="#4A7CFF"/>
<circle cx="268.7" cy="400.7" r="0.9" fill="#4A7CFF"/>
<circle cx="280" cy="410" r="0.9" fill="#4A7CFF"/>
<circle cx="282.8" cy="408.3" r="0.9" fill="#4A7CFF"/>
<circle cx="286" cy="232" r="0.9" fill="#4A7CFF"/>
<circle cx="283" cy="237" r="0.9" fill="#4A7CFF"/>
</g>
<ellipse cx="299" cy="290.2" rx="18.5" ry="2.9" transform="rotate(-45.3 299 290.2)" fill="#F8D830" filter="url(#b1)"/>
<ellipse cx="299" cy="290.2" rx="17.5" ry="1.7" transform="rotate(-45.3 299 290.2)" fill="#D01800"/>
<ellipse cx="299" cy="290.2" rx="14" ry="0.8" transform="rotate(-45.3 299 290.2)" fill="#980000"/>
<line x1="264.8" y1="220.2" x2="329.2" y2="220.2" stroke="#888" stroke-width="1" stroke-dasharray="1.2 2.2"/>
<line x1="264.8" y1="220.2" x2="264.8" y2="289" stroke="#888" stroke-width="1" stroke-dasharray="1.2 2.2"/>
<line x1="278" y1="220.2" x2="278" y2="247" stroke="#888" stroke-width="1" stroke-dasharray="1.2 2.2"/>
<line x1="320.8" y1="220.2" x2="320.8" y2="240" stroke="#888" stroke-width="1" stroke-dasharray="1.2 2.2"/>
<line x1="320.8" y1="355" x2="320.8" y2="412.6" stroke="#888" stroke-width="1" stroke-dasharray="1.2 2.2"/>
<line x1="329.2" y1="220.2" x2="329.2" y2="412.6" stroke="#999" stroke-width="1.3" />
<line x1="264.8" y1="412.6" x2="329.2" y2="412.6" stroke="#999" stroke-width="1.3" />
<text x="233.9" y="225.3" font-size="12" fill="#000" stroke="#000" stroke-width="0.15" font-weight="normal" text-anchor="start" textLength="23.2" lengthAdjust="spacingAndGlyphs" >0.61</text>
<text x="233.9" y="273.6" font-size="12" fill="#000" stroke="#000" stroke-width="0.15" font-weight="normal" text-anchor="start" textLength="23.2" lengthAdjust="spacingAndGlyphs" >0.60</text>
<text x="233.9" y="321.7" font-size="12" fill="#000" stroke="#000" stroke-width="0.15" font-weight="normal" text-anchor="start" textLength="23.2" lengthAdjust="spacingAndGlyphs" >0.59</text>
<text x="233.9" y="369.8" font-size="12" fill="#000" stroke="#000" stroke-width="0.15" font-weight="normal" text-anchor="start" textLength="23.2" lengthAdjust="spacingAndGlyphs" >0.58</text>
<text x="233.9" y="418.0" font-size="12" fill="#000" stroke="#000" stroke-width="0.15" font-weight="normal" text-anchor="start" textLength="23.2" lengthAdjust="spacingAndGlyphs" >0.57</text>
<text x="281" y="217" font-size="13" fill="#000" stroke="#000" stroke-width="0.15" font-weight="normal" text-anchor="start" textLength="31" lengthAdjust="spacingAndGlyphs" >(112)</text>
<text x="261.2" y="431" font-size="12" fill="#000" stroke="#000" stroke-width="0.15" font-weight="normal" text-anchor="start" textLength="30" lengthAdjust="spacingAndGlyphs" >0.208</text>
<text x="303.3" y="431" font-size="12" fill="#000" stroke="#000" stroke-width="0.15" font-weight="normal" text-anchor="start" textLength="30" lengthAdjust="spacingAndGlyphs" >0.218</text>
<text stroke="#000" stroke-width="0.15" x="273.4" y="449.1" font-size="12.5" font-weight="normal" fill="#000">Q</text>
<text x="283.3" y="454.1" font-size="8.5" font-weight="bold" fill="#000" textLength="6.6" lengthAdjust="spacingAndGlyphs">in</text>
<text stroke="#000" stroke-width="0.15" x="294.3" y="449.1" font-size="12.5" font-weight="normal" fill="#000" textLength="12.2" lengthAdjust="spacingAndGlyphs">(A</text>
<text stroke="#000" stroke-width="0.15" x="306.3" y="444.4" font-size="8" font-weight="normal" fill="#000" textLength="6.8" lengthAdjust="spacingAndGlyphs">-1</text>
<text stroke="#000" stroke-width="0.15" x="315.0" y="449.1" font-size="12.5" font-weight="normal" fill="#000">)</text>
<g transform="translate(218.2,341.7) rotate(-90)">
<text stroke="#000" stroke-width="0.15" x="-0.6" y="0" font-size="12.5" font-weight="normal" fill="#000">Q</text>
<text x="9.4" y="6.6" font-size="9" font-weight="bold" fill="#000" textLength="11.9" lengthAdjust="spacingAndGlyphs">out</text>
<text stroke="#000" stroke-width="0.15" x="24.0" y="0" font-size="12.5" font-weight="normal" fill="#000" textLength="12.2" lengthAdjust="spacingAndGlyphs">(A</text>
<text stroke="#000" stroke-width="0.15" x="36.8" y="-7.8" font-size="8" font-weight="normal" fill="#000" textLength="7.3" lengthAdjust="spacingAndGlyphs">-1</text>
<text stroke="#000" stroke-width="0.15" x="44.9" y="0" font-size="12.5" font-weight="normal" fill="#000">)</text>
</g>
<text x="467.8" y="451" font-size="9" font-weight="bold" fill="#333" textLength="6.9" lengthAdjust="spacingAndGlyphs">Q</text>
<text x="475.9" y="458.9" font-size="8.5" font-weight="bold" fill="#333" textLength="8.1" lengthAdjust="spacingAndGlyphs">in</text>
<text x="486.4" y="451.3" font-size="9.5" font-weight="bold" fill="#333" textLength="11.3" lengthAdjust="spacingAndGlyphs">(A</text>
<text x="496.1" y="446.4" font-size="7.5" font-weight="bold" fill="#333" textLength="9.4" lengthAdjust="spacingAndGlyphs">-1</text>
<text x="506.1" y="451.3" font-size="9.5" font-weight="bold" fill="#333">)</text>
<g transform="translate(408.3,340.4) rotate(-90)">
<text x="-0.4" y="0" font-size="9" font-weight="bold" fill="#333" textLength="8.3" lengthAdjust="spacingAndGlyphs">Q</text>
<text x="9.4" y="7.8" font-size="8.5" font-weight="bold" fill="#333" textLength="11.4" lengthAdjust="spacingAndGlyphs">out</text>
<text x="22.6" y="0" font-size="9.5" font-weight="bold" fill="#333" textLength="13.4" lengthAdjust="spacingAndGlyphs">(A</text>
<text x="37.4" y="-7.2" font-size="7.5" font-weight="bold" fill="#333" textLength="5.8" lengthAdjust="spacingAndGlyphs">-1</text>
<text x="46.5" y="0" font-size="9.5" font-weight="bold" fill="#333">)</text>
</g>
<text x="297.8" y="266.7" font-size="11" font-weight="bold" fill="#111" stroke="#111" stroke-width="0.35" textLength="27.3" lengthAdjust="spacingAndGlyphs">LSAT</text>
<text x="309.3" y="362.8" font-size="11" font-weight="bold" fill="#111" stroke="#111" stroke-width="0.35" textLength="67.3" lengthAdjust="spacingAndGlyphs">La<tspan font-size="8.5" dy="3">2</tspan><tspan dy="-3">CoMnO</tspan><tspan font-size="8.5" dy="3">6</tspan></text>
<text x="393.1" y="211.9" font-size="17" fill="#000" font-weight="bold" text-anchor="start" >d</text>
<g clip-path="url(#cd)">
<rect x="450" y="210" width="80" height="200" fill="#1032F2"/>
<ellipse cx="483" cy="310" rx="22" ry="115" fill="#0A60F8" filter="url(#b12)"/>
<ellipse cx="486" cy="352" rx="20" ry="40" fill="#0A8CFF" filter="url(#b7)"/>
<ellipse cx="485" cy="315" rx="2.2" ry="85" fill="#28B0FF" filter="url(#b1)"/>
<ellipse cx="485.5" cy="350" rx="9" ry="30" fill="#14CCF8" filter="url(#b4)"/>
<ellipse cx="486" cy="350" rx="4" ry="15" fill="#88ECA0" filter="url(#b2)"/>
<ellipse cx="486.3" cy="349" rx="2.2" ry="7" fill="#C8F040" filter="url(#b2)"/>
<ellipse cx="485.8" cy="249" rx="15" ry="26" transform="rotate(18 485.8 249)" fill="#0A90FF" filter="url(#b7)"/>
<ellipse cx="485.8" cy="248.7" rx="9.5" ry="16" transform="rotate(22 485.8 248.7)" fill="#20ECFF" filter="url(#b2)"/>
</g>
<ellipse cx="485.8" cy="248.7" rx="5.6" ry="11.2" transform="rotate(22 485.8 248.7)" fill="#F8D020" filter="url(#b1)"/>
<rect x="482.3" y="240" width="7" height="17" rx="3.4" transform="rotate(22 485.8 248.5)" fill="#D02000"/>
<rect x="484" y="242" width="3.6" height="13" rx="1.8" transform="rotate(22 485.8 248.5)" fill="#A00000"/>
<line x1="455.2" y1="216" x2="523.6" y2="216" stroke="#888" stroke-width="1" stroke-dasharray="1.2 2.2"/>
<line x1="455.2" y1="216" x2="455.2" y2="226" stroke="#999" stroke-width="1.3" />
<line x1="455.2" y1="347.8" x2="455.2" y2="412.8" stroke="#999" stroke-width="1.3" />
<line x1="455.2" y1="412.8" x2="523.6" y2="412.8" stroke="#999" stroke-width="1.3" />
<line x1="466.6" y1="216" x2="466.6" y2="224" stroke="#888" stroke-width="1" stroke-dasharray="1.2 2.2"/>
<line x1="466.6" y1="360" x2="466.6" y2="412.8" stroke="#888" stroke-width="1" stroke-dasharray="1.2 2.2"/>
<line x1="523.6" y1="393" x2="523.6" y2="412.8" stroke="#888" stroke-width="1" stroke-dasharray="1.2 2.2"/>
<text x="427.4" y="221.20000000000002" font-size="10" fill="#222" font-weight="bold" text-anchor="start" textLength="20.3" lengthAdjust="spacingAndGlyphs" >0.78</text>
<text x="427.4" y="285.9" font-size="10" fill="#222" font-weight="bold" text-anchor="start" textLength="20.3" lengthAdjust="spacingAndGlyphs" >0.77</text>
<text x="427.4" y="351.9" font-size="10" fill="#222" font-weight="bold" text-anchor="start" textLength="20.3" lengthAdjust="spacingAndGlyphs" >0.76</text>
<text x="427.4" y="417.9" font-size="10" fill="#222" font-weight="bold" text-anchor="start" textLength="20.3" lengthAdjust="spacingAndGlyphs" >0.75</text>
<text x="472" y="214" font-size="13" fill="#000" stroke="#000" stroke-width="0.15" font-weight="normal" text-anchor="start" textLength="30.7" lengthAdjust="spacingAndGlyphs" >(103)</text>
<text x="452.7" y="428.3" font-size="10" fill="#222" font-weight="bold" text-anchor="start" textLength="21.5" lengthAdjust="spacingAndGlyphs" >-0.26</text>
<text x="506.7" y="428.3" font-size="10" fill="#222" font-weight="bold" text-anchor="start" textLength="28.3" lengthAdjust="spacingAndGlyphs" >-0.255</text>
<text x="490.3" y="235.1" font-size="11" font-weight="bold" fill="#111" stroke="#111" stroke-width="0.35" textLength="26.8" lengthAdjust="spacingAndGlyphs">LSAT</text>
<text x="494.5" y="375.6" font-size="11" font-weight="bold" fill="#111" stroke="#111" stroke-width="0.35" textLength="67.3" lengthAdjust="spacingAndGlyphs">La<tspan font-size="8.5" dy="3">2</tspan><tspan dy="-3">CoMnO</tspan><tspan font-size="8.5" dy="3">6</tspan></text>
</svg></body></html>
